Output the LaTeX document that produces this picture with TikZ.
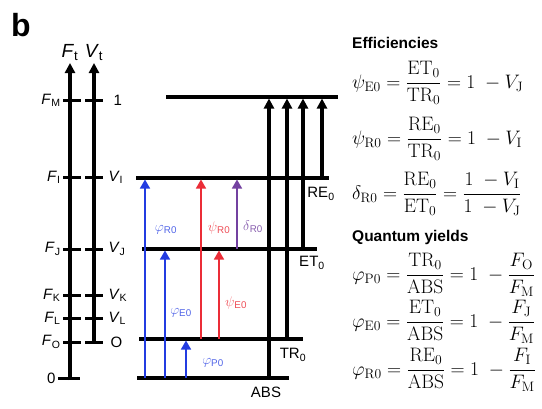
\documentclass[tikz,border=0pt]{standalone}
\usepackage{fix-cm}
\usepackage{amsmath}
\usepackage[no-math]{fontspec}
\setmainfont{Liberation Sans}
\setmathrm{Liberation Serif}
\usetikzlibrary{arrows.meta}

\definecolor{phiblue}{RGB}{35,60,225}
\definecolor{psired}{RGB}{235,45,55}
\definecolor{delpurple}{RGB}{115,65,160}

\newcommand\Lb[2]{\textit{#1}\textsubscript{#2}}

\begin{document}
\begin{tikzpicture}[x=1pt, y=-1pt,
  lvl/.style={line width=3.2pt},
  tickmark/.style={line width=3pt},
  blkarrow/.style={line width=3.2pt, -{Triangle[length=10pt,width=10pt]}},
  colarrow/.style={line width=1.4pt, -{Triangle[length=9pt,width=10pt]}},
  lab/.style={font=\fontsize{15}{17}\selectfont, inner sep=1pt},
  clab/.style={font=\fontsize{14}{16}\selectfont, inner sep=1pt},
  big/.style={font=\fontsize{15}{17}\selectfont, inner sep=1pt},
  eq/.style={anchor=west, inner sep=0pt, font=\fontsize{19.5}{22}\selectfont},
  head/.style={anchor=west, inner sep=0pt, font=\fontsize{15.5}{17}\selectfont\bfseries}]

\useasboundingbox (0,0) rectangle (542,408);

\node[font=\fontsize{32}{34}\selectfont\bfseries] (b) at (21,25) {b};

% the two scales
\draw[blkarrow] (70,380) -- (70,63) node[above, font=\fontsize{19}{21}\selectfont, inner sep=1pt] (Ft) {\Lb{F}{t}};
\draw[blkarrow] (94,343.5) -- (94,63) node[above, font=\fontsize{19}{21}\selectfont, inner sep=1pt] (Vt) {\Lb{V}{t}};

\foreach \y/\s in {100/M, 177/I, 249/J, 295/K, 318/L, 342/O}
  \draw[tickmark] (63,\y) -- (81,\y) node[lab, anchor=east, at start] (F\s) {\Lb{F}{\s}};
\draw[tickmark] (58,378) -- (80,378) node[lab, anchor=east, at start] (F0) {0};

\foreach \y/\s in {177/I, 249/J, 295/K, 318/L}
  \draw[tickmark] (85,\y) -- (103,\y) node[lab, anchor=west, at end, xshift=3pt] (V\s) {\Lb{V}{\s}};
\draw[tickmark] (85,100) -- (103,100) node[lab, anchor=west, at end, xshift=8pt] (V1) {1};
\draw[tickmark] (85,342) -- (103,342) node[lab, anchor=west, at end, xshift=5pt] (VO) {O};

% energy levels
\draw[lvl] (166,97) -- (338,97);
\draw[lvl] (136,178) -- (329,178);
\draw[lvl] (142,249) -- (317,249);
\draw[lvl] (139,339) -- (303,339);
\draw[lvl] (137,378) -- (289,378);

\draw[blkarrow] (269,378) -- (269,98.5);
\draw[blkarrow] (287,339) -- (287,98.5);
\draw[blkarrow] (303,249) -- (303,98.5);
\draw[blkarrow] (322,178) -- (322,98.5);

\node[big] (RE) at (321,194) {RE\textsubscript{0}};
\node[big] (ET) at (312,263) {ET\textsubscript{0}};
\node[big] (TR) at (293,355) {TR\textsubscript{0}};
\node[big] (ABS) at (266,392) {ABS};

% yields and efficiencies
\draw[colarrow, phiblue] (145,378) -- (145,179.5);
\draw[colarrow, phiblue] (165,378) -- (165,250.5);
\draw[colarrow, phiblue] (186,378) -- (186,340.5);
\draw[colarrow, psired] (201,339) -- (201,179.5);
\draw[colarrow, psired] (219,339) -- (219,250.5);
\draw[colarrow, delpurple] (237,249) -- (237,179.5);

\node[clab, phiblue!80] (phiR) at (166,230) {$\varphi$\textsubscript{R0}};
\node[clab, phiblue!80] (phiE) at (181,313) {$\varphi$\textsubscript{E0}};
\node[clab, phiblue!80] (phiP) at (213,363) {$\varphi$\textsubscript{P0}};
\node[clab, psired!85] (psiR) at (219,228) {$\psi$\textsubscript{R0}};
\node[clab, psired!85] (psiE) at (236,303) {$\psi$\textsubscript{E0}};
\node[clab, delpurple!85] (delR) at (253,227) {$\delta$\textsubscript{R0}};

% formulas
\node[head] (eff) at (352,43) {Efficiencies};
\node[eq] (e1) at (352,83) {$\psi_{\mathrm{E0}} = \dfrac{\mathrm{ET}_0}{\mathrm{TR}_0} = \mathrm{1}\ - V_{\mathrm{J}}$};
\node[eq] (e2) at (352,139) {$\psi_{\mathrm{R0}} = \dfrac{\mathrm{RE}_0}{\mathrm{TR}_0} = \mathrm{1}\ - V_{\mathrm{I}}$};
\node[eq] (e3) at (352,194) {$\delta_{\mathrm{R0}} = \dfrac{\mathrm{RE}_0}{\mathrm{ET}_0} = \dfrac{\mathrm{1}\ - V_{\mathrm{I}}}{\mathrm{1}\ - V_{\mathrm{J}}}$};

\node[head] (qy) at (352,237) {Quantum yields};
\node[eq] (q1) at (352,275) {$\varphi_{\mathrm{P0}} = \dfrac{\mathrm{TR}_0}{\mathrm{ABS}} = \mathrm{1}\ - \dfrac{F_{\mathrm{O}}}{F_{\mathrm{M}}}$};
\node[eq] (q2) at (352,322) {$\varphi_{\mathrm{E0}} = \dfrac{\mathrm{ET}_0}{\mathrm{ABS}} = \mathrm{1}\ - \dfrac{F_{\mathrm{J}}}{F_{\mathrm{M}}}$};
\node[eq] (q3) at (352,370) {$\varphi_{\mathrm{R0}} = \dfrac{\mathrm{RE}_0}{\mathrm{ABS}} = \mathrm{1}\ - \dfrac{F_{\mathrm{I}}}{F_{\mathrm{M}}}$};

\end{tikzpicture}
\end{document}
